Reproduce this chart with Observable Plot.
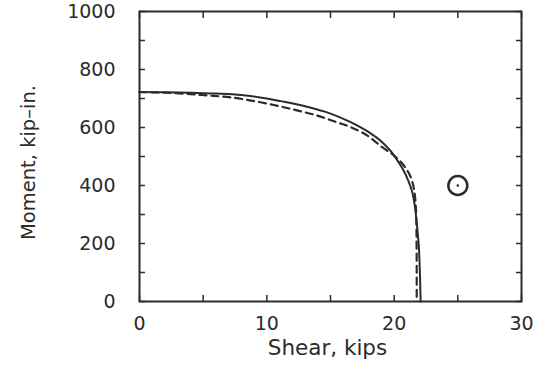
<!DOCTYPE html>
<html>
<head>
<meta charset="utf-8">
<script src="https://cdn.jsdelivr.net/npm/d3@7"></script>
<script src="https://cdn.jsdelivr.net/npm/@observablehq/plot@0.6"></script>
<style>
  html, body { margin: 0; padding: 0; background: #fff; }
</style>
</head>
<body>
<div id="chart"></div>
<script>
// Solid curve (interaction curve 1)
const solidShear  = [0, 2, 4, 6, 8, 10, 11.08, 13, 15, 16.5, 18.15, 19, 19.7, 20.2, 20.7, 21.1, 21.4, 21.62, 21.8, 21.94, 22.02, 22.07, 22.08];
const solidMoment = [722, 721.5, 720, 717, 712, 700, 691, 673, 648, 620, 580, 552, 520, 490, 455, 418, 380, 330, 260, 187, 100, 15, 0];
// Dashed curve (interaction curve 2)
const dashShear  = [0, 2, 4, 5.5, 7.15, 9.5, 11.9, 13.96, 15.5, 16.6, 17.9, 19.06, 20.0, 20.76, 21.3, 21.55, 21.68, 21.74, 21.76, 21.77, 21.77];
const dashMoment = [722, 720, 715, 710, 704, 687, 664, 641, 618, 601, 572, 532, 503, 469, 429, 389, 340, 280, 200, 100, 0];
// Test point
const testShear = [25];
const testMoment = [400];

const xTickLabels = [0, 10, 20, 30];
const yTickLabels = [0, 200, 400, 600, 800, 1000];
const xTickMarks = [0, 5, 10, 15, 20, 25, 30];
const yTickMarks = [0, 100, 200, 300, 400, 500, 600, 700, 800, 900, 1000];
const xTitle = "Shear, kips";
const yTitle = "Moment, kip–in.";

const solid = solidShear.map((v, i) => ({x: v, y: solidMoment[i]}));
const dashed = dashShear.map((v, i) => ({x: v, y: dashMoment[i]}));
const tests = testShear.map((v, i) => ({x: v, y: testMoment[i]}));

const ink = "#2b2b2b";
const font = "DejaVu Sans, sans-serif";
const fmt = d => String(d);

const chart = Plot.plot({
  width: 537,
  height: 379,
  marginLeft: 139,
  marginRight: 16,
  marginTop: 11,
  marginBottom: 78,
  style: {fontFamily: font, color: ink, background: "#fff"},
  x: {domain: [0, 30]},
  y: {domain: [0, 1000]},
  marks: [
    // inward tick marks on all four sides
    Plot.axisX({anchor: "bottom", ticks: xTickMarks, tickSize: -6, tickFormat: () => "", stroke: ink, strokeWidth: 1.5, label: null}),
    Plot.axisX({anchor: "top", ticks: xTickMarks, tickSize: -6, tickFormat: () => "", stroke: ink, strokeWidth: 1.5, label: null}),
    Plot.axisY({anchor: "left", ticks: yTickMarks, tickSize: -6, tickFormat: () => "", stroke: ink, strokeWidth: 1.5, label: null}),
    Plot.axisY({anchor: "right", ticks: yTickMarks, tickSize: -6, tickFormat: () => "", stroke: ink, strokeWidth: 1.5, label: null}),
    // tick labels
    Plot.axisX({anchor: "bottom", ticks: xTickLabels, tickSize: 0, tickPadding: 15, fontSize: 19, tickFormat: fmt, label: null}),
    Plot.axisY({anchor: "left", ticks: yTickLabels, tickSize: 0, tickPadding: 24, fontSize: 19, tickFormat: fmt, label: null}),
    // axis titles
    Plot.text([xTitle], {frameAnchor: "bottom", dy: 53, dx: -3, fontSize: 21.5, fill: ink}),
    Plot.text([yTitle], {frameAnchor: "left", textAnchor: "middle", rotate: -90, dx: -111, dy: 6, fontSize: 19.5, fill: ink}),
    Plot.frame({stroke: ink, strokeWidth: 2}),
    Plot.line(solid, {x: "x", y: "y", stroke: ink, strokeWidth: 2, curve: "catmull-rom"}),
    Plot.line(dashed, {x: "x", y: "y", stroke: ink, strokeWidth: 2.2, strokeDasharray: "7,5", curve: "catmull-rom"}),
    Plot.dot(tests, {x: "x", y: "y", r: 9.5, stroke: ink, strokeWidth: 2.5, fill: "none"}),
    Plot.dot(tests, {x: "x", y: "y", r: 1.3, fill: ink, stroke: "none"})
  ]
});
document.getElementById("chart").appendChild(chart);
</script>
</body>
</html>
